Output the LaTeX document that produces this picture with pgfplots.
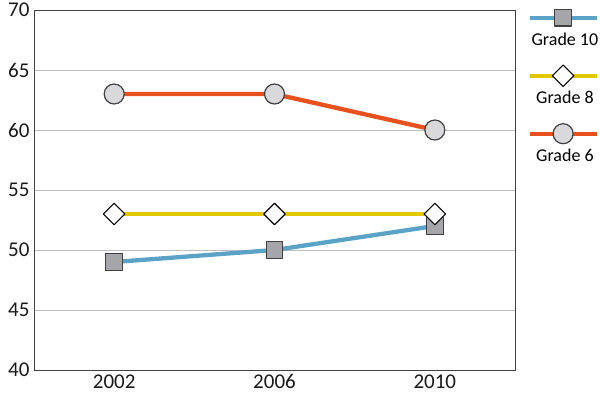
\documentclass[border=0pt]{standalone}
\usepackage{pgfplots}
\pgfplotsset{compat=1.18}
\usepackage{fontspec}
\setmainfont{Carlito}
\definecolor{c10}{HTML}{5BA3C6}
\definecolor{c8}{HTML}{E2C800}
\definecolor{c6}{HTML}{E8501E}
\definecolor{sqfill}{HTML}{A6A6AA}
\definecolor{cifill}{HTML}{D9D9DB}
\definecolor{mkdraw}{HTML}{404040}
\begin{document}
\begin{tikzpicture}
\path[use as bounding box] (-34bp,-29bp) rectangle (566bp,370bp);
\begin{axis}[
  scale only axis, width=481bp, height=360bp,
  xmin=-0.5, xmax=2.5, ymin=40, ymax=70,
  xtick={0,1,2}, xticklabels={2002,2006,2010},
  ytick={40,45,...,70},
  ymajorgrids, grid style={color=black!25, line width=0.8bp},
  major tick length=0pt,
  axis line style={color=black!75, line width=0.9bp},
  tick label style={font=\fontsize{21bp}{24bp}\selectfont, color=black!90},
  /pgf/number format/assume math mode=true,
  yticklabel style={xshift=-1bp},
  xticklabel style={yshift=-1bp},
  legend image code/.code={
    \draw[overlay,mark repeat=2,mark phase=2,#1] plot coordinates {(0bp,22bp) (33.5bp,22bp) (67bp,22bp)};
  },
  legend style={at={(1.03,0.945)}, anchor=north west, draw=none, fill=none,
    inner sep=0pt, column sep=0pt, row sep=38.5bp,
    font=\fontsize{18bp}{21bp}\selectfont,
    cells={anchor=center, text height=14bp, text depth=3bp, inner sep=0pt}},
  every axis plot/.append style={line width=4.3bp, line join=round},
]
\addplot[c10, mark=square*, mark size=8.3bp, mark options={fill=sqfill, draw=mkdraw, line width=1.2bp}]
  coordinates {(0,49) (1,50) (2,52)};
\addlegendentry{Grade 10}
\addplot[c8, mark=square*, mark size=7.6bp, mark options={rotate=45, fill=white, draw=black, line width=1.1bp}]
  coordinates {(0,53) (1,53) (2,53)};
\addlegendentry{Grade 8}
\addplot[c6, mark=*, mark size=10bp, mark options={fill=cifill, draw=mkdraw, line width=1.2bp}]
  coordinates {(0,63) (1,63) (2,60)};
\addlegendentry{Grade 6}
\end{axis}
\end{tikzpicture}
\end{document}
